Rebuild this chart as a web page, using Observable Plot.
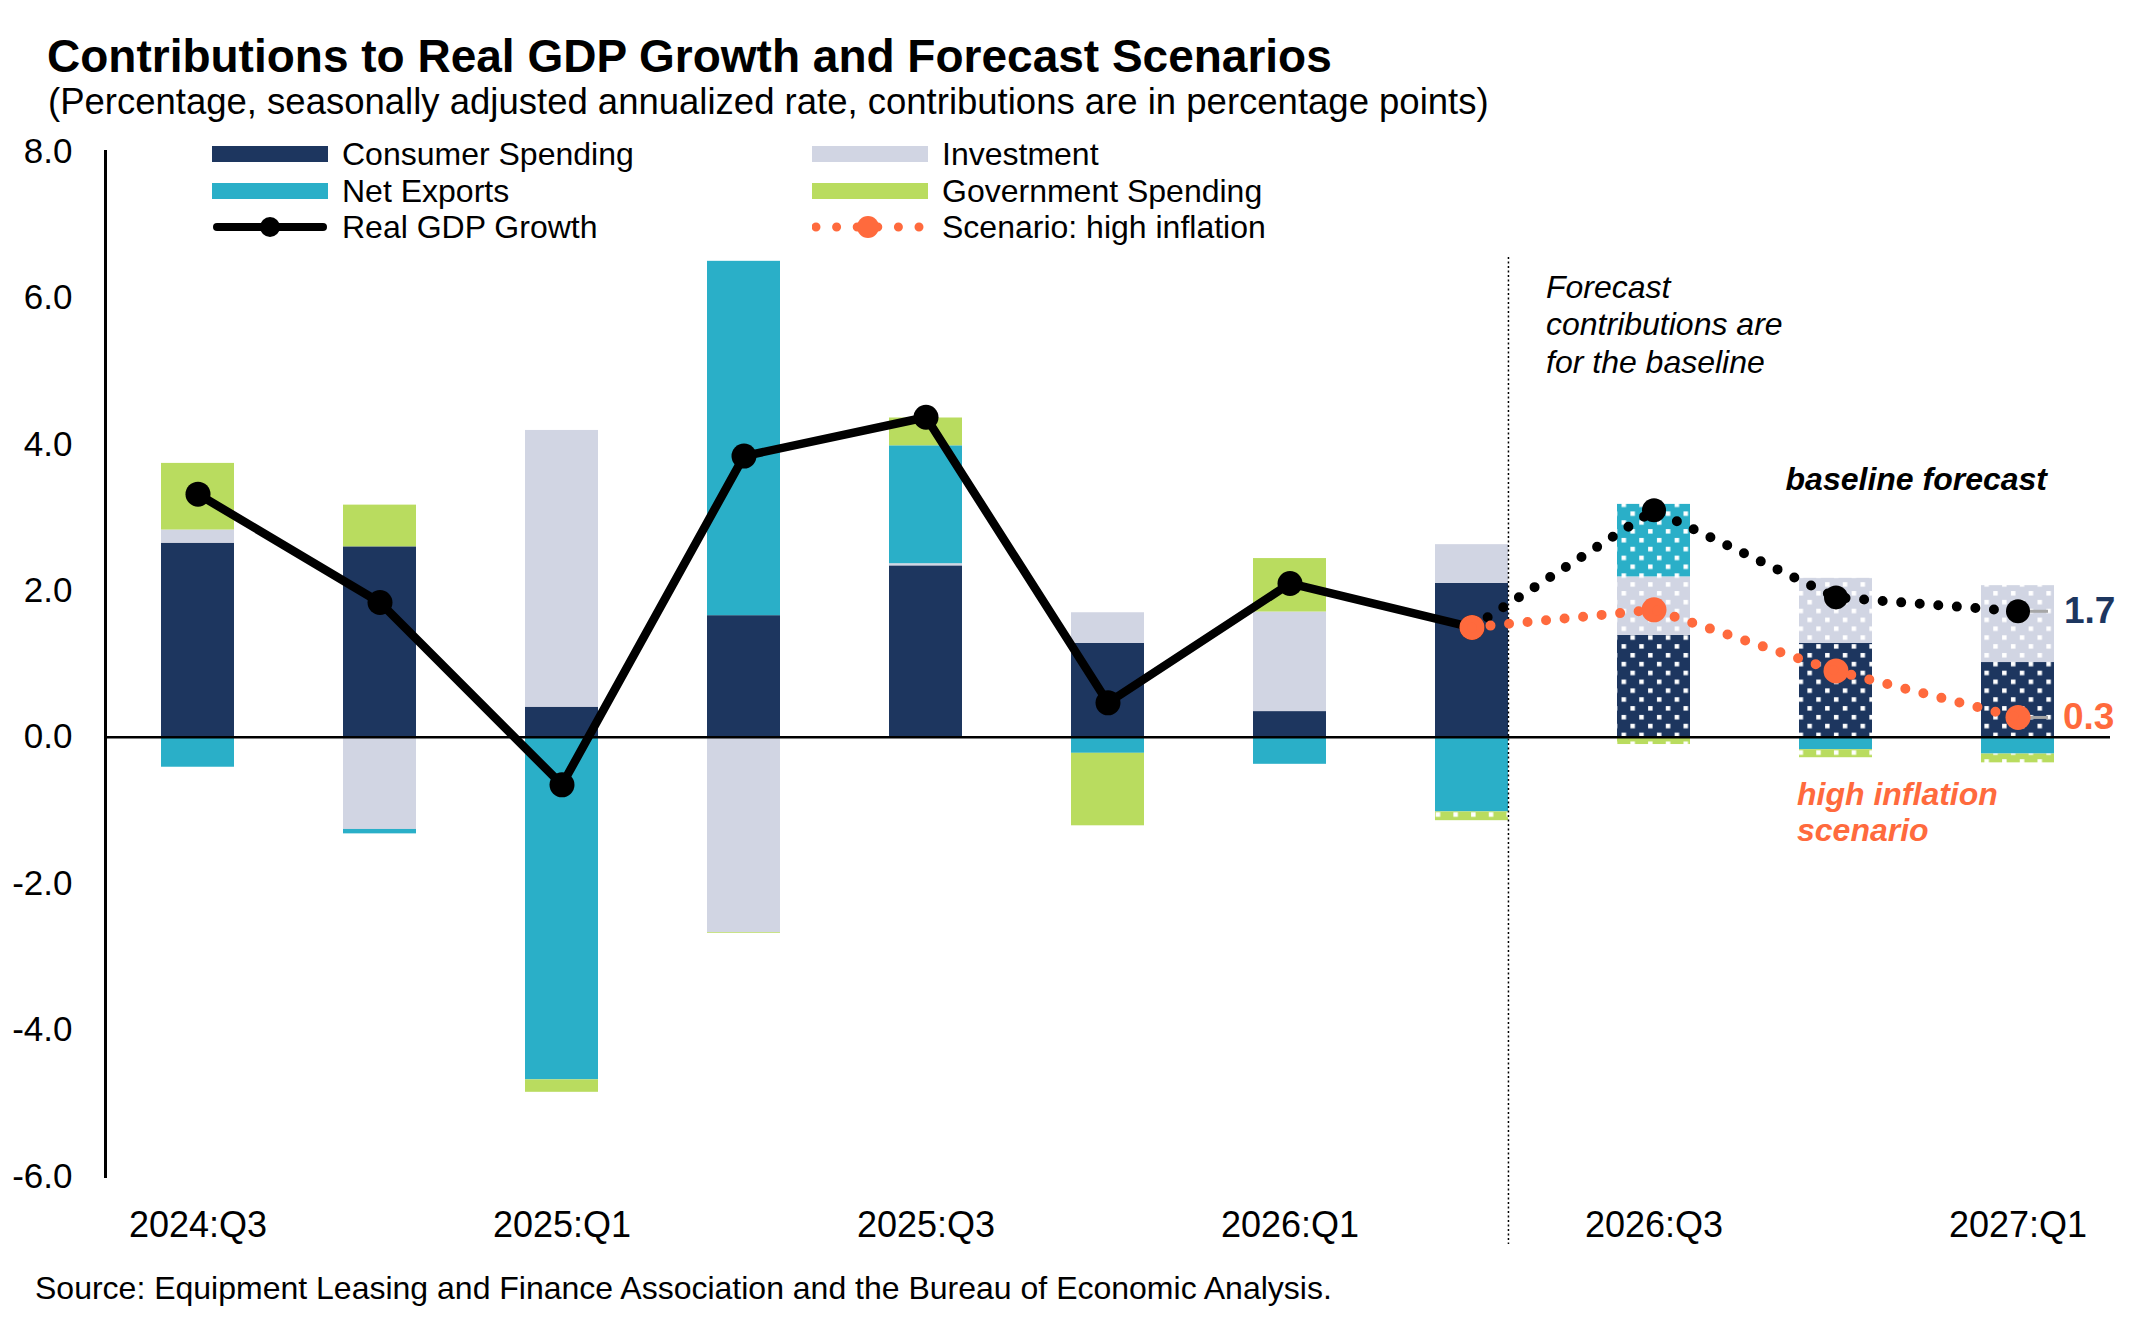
<!DOCTYPE html>
<html>
<head>
<meta charset="utf-8">
<script src="https://cdn.jsdelivr.net/npm/d3@7"></script>
<script src="https://cdn.jsdelivr.net/npm/@observablehq/plot@0.6"></script>
<style>
  html, body { margin: 0; padding: 0; background: #fff; }
  body { font-family: "Liberation Sans", Arial, Helvetica, sans-serif; color: #000; }
  #page { position: relative; width: 2145px; height: 1320px; overflow: hidden; }
  .abs { position: absolute; white-space: nowrap; line-height: 1; }
  #title { left: 47px; top: 33px; font-size: 46px; font-weight: bold; }
  #subtitle { left: 48px; top: 84px; font-size: 36.5px; }
  #source { left: 35px; top: 1272px; font-size: 32px; }
  #chart { position: absolute; left: 0; top: 120px; }
  .leg { position: absolute; height: 40px; display: flex; align-items: center; font-size: 32px; white-space: nowrap; }
  .sw { width: 116px; height: 16px; margin-right: 14px; flex: none; }
  .swsvg { width: 116px; height: 30px; margin-right: 14px; flex: none; }
</style>
</head>
<body>
<div id="page">
  <div id="title" class="abs">Contributions to Real GDP Growth and Forecast Scenarios</div>
  <div id="subtitle" class="abs">(Percentage, seasonally adjusted annualized rate, contributions are in percentage points)</div>
  <div id="chart"></div>
  <div id="legend"></div>
  <div id="source" class="abs">Source: Equipment Leasing and Finance Association and the Bureau of Economic Analysis.</div>
</div>
<script>
// ---------------- data ----------------
const quarters = ["2024:Q3","2024:Q4","2025:Q1","2025:Q2","2025:Q3","2025:Q4","2026:Q1","2026:Q2","2026:Q3","2026:Q4","2027:Q1"];
const xTickLabels = ["2024:Q3","2025:Q1","2025:Q3","2026:Q1","2026:Q3","2027:Q1"];
const yTicks = [-6, -4, -2, 0, 2, 4, 6, 8];

const seriesNames = ["Consumer Spending", "Investment", "Net Exports", "Government Spending"];
const consumer   = [2.65, 2.60, 0.41, 1.66, 2.34, 1.28, 0.35, 2.10, 1.39, 1.28, 1.02];
const investment = [0.18, -1.26, 3.78, -2.67, 0.03, 0.42, 1.36, 0.53, 0.80, 0.89, 1.05];
const netExports = [-0.41, -0.06, -4.68, 4.84, 1.61, -0.22, -0.37, -1.02, 0.99, -0.17, -0.23];
const government = [0.91, 0.57, -0.17, -0.01, 0.38, -0.99, 0.73, -0.12, -0.10, -0.11, -0.12];

const gdpQuarters = ["2024:Q3","2024:Q4","2025:Q1","2025:Q2","2025:Q3","2025:Q4","2026:Q1","2026:Q2"];
const gdpGrowth   = [3.32, 1.84, -0.65, 3.84, 4.37, 0.47, 2.10, 1.50];

const forecastQuarters = ["2026:Q2","2026:Q3","2026:Q4","2027:Q1"];
const baselineForecast = [1.50, 3.10, 1.91, 1.72];
const highInflation    = [1.50, 1.74, 0.905, 0.27];

// contributions that are projected (drawn with the dotted pattern)
const projectedCells = [
  ["2026:Q2","Government Spending"],
  ["2026:Q3","Consumer Spending"],["2026:Q3","Investment"],["2026:Q3","Net Exports"],["2026:Q3","Government Spending"],
  ["2026:Q4","Consumer Spending"],["2026:Q4","Investment"],["2026:Q4","Government Spending"],
  ["2027:Q1","Consumer Spending"],["2027:Q1","Investment"],["2027:Q1","Government Spending"]
];

// ---------------- styles ----------------
const colors = {
  "Consumer Spending": "#1D365F",
  "Investment": "#D1D5E3",
  "Net Exports": "#2AAFC8",
  "Government Spending": "#B9DC5F"
};
const patId = {
  "Consumer Spending": "pat-cons",
  "Investment": "pat-inv",
  "Net Exports": "pat-nx",
  "Government Spending": "pat-gov"
};
const orange = "#FF6A3D";
const font = "Liberation Sans, Arial, Helvetica, sans-serif";

// ---------------- build table ----------------
const seriesValues = [consumer, investment, netExports, government];
const isProjected = (q, s) => projectedCells.some(([pq, ps]) => pq === q && ps === s);
const bars = [];
quarters.forEach((q, i) => {
  seriesNames.forEach((s, k) => {
    bars.push({quarter: q, series: s, value: seriesValues[k][i],
      fill: isProjected(q, s) ? `url(#${patId[s]})` : colors[s]});
  });
});
const gdp = gdpQuarters.map((q, i) => ({quarter: q, value: gdpGrowth[i]}));
const base = forecastQuarters.map((q, i) => ({quarter: q, value: baselineForecast[i]}));
const high = forecastQuarters.map((q, i) => ({quarter: q, value: highInflation[i]}));
const lastBase = base[base.length - 1];
const lastHigh = high[high.length - 1];

// ---------------- layout ----------------
const W = 2145, H = 1140, mL = 105, mR = 35, mT = 31, mB = 84;
const step = (W - mL - mR) / quarters.length;
const bandW = step * 0.4;

const chart = Plot.plot({
  width: W, height: H,
  marginLeft: mL, marginRight: mR, marginTop: mT, marginBottom: mB,
  style: {fontFamily: font, background: "transparent", overflow: "visible", color: "#000"},
  x: {domain: quarters, paddingInner: 0.6, paddingOuter: 0.3, axis: null},
  y: {domain: [-6, 8], axis: null},
  color: {type: "identity"},
  marks: [
    Plot.barY(bars, {x: "quarter", y: "value", z: "series", fill: "fill"}),
    Plot.frame({anchor: "left", stroke: "#000", strokeWidth: 3}),
    Plot.ruleY([0], {stroke: "#000", strokeWidth: 2.5}),
    Plot.axisY(yTicks, {tickSize: 0, tickPadding: 33, tickFormat: d => d.toFixed(1), fontSize: 35, fill: "#000"}),
    Plot.axisX(xTickLabels, {tickSize: 0, tickPadding: 35, fontSize: 36, fill: "#000"}),
    // forecast divider (right edge of the last actual bar)
    Plot.ruleX([quarters[7]], {dx: bandW / 2, stroke: "#000", strokeWidth: 1.5, strokeDasharray: "2 2.5", insetTop: 106, insetBottom: -68}),
    Plot.text([{q: quarters[8], v: 5.65}], {x: "q", y: "v", text: () => "Forecast\ncontributions are\nfor the baseline",
      dx: -108, textAnchor: "start", lineAnchor: "middle", lineHeight: 1.16, fontSize: 32, fontStyle: "italic", fill: "#000"}),
    // actual GDP
    Plot.line(gdp, {x: "quarter", y: "value", stroke: "#000", strokeWidth: 8.5, strokeLinejoin: "round", strokeLinecap: "round"}),
    Plot.dot(gdp, {x: "quarter", y: "value", r: 12.5, fill: "#000", stroke: "none"}),
    // leaders to end labels
    Plot.tickY([lastBase, lastHigh], {x: "quarter", y: "value", stroke: "#A6A6A6", strokeWidth: 3, insetLeft: bandW / 2, insetRight: 6}),
    // baseline forecast
    Plot.dot(base.slice(1), {x: "quarter", y: "value", r: 12, fill: "#000", stroke: "none"}),
    Plot.line(base, {x: "quarter", y: "value", stroke: "#000", strokeWidth: 10, strokeLinecap: "round", strokeDasharray: "0 18.6"}),
    // high inflation scenario
    Plot.dot(high, {x: "quarter", y: "value", r: 12.5, fill: orange, stroke: "none"}),
    Plot.line(high, {x: "quarter", y: "value", stroke: orange, strokeWidth: 10, strokeLinecap: "round", strokeDasharray: "0 18.6"}),
    // labels
    Plot.text([lastBase], {x: "quarter", y: "value", text: d => d.value.toFixed(1), dx: 46, textAnchor: "start",
      fontSize: 37, fontWeight: "bold", fill: "#1D365F"}),
    Plot.text([lastHigh], {x: "quarter", y: "value", text: d => d.value.toFixed(1), dx: 45, textAnchor: "start",
      fontSize: 37, fontWeight: "bold", fill: orange}),
    Plot.text([{q: quarters[10], v: 3.52}], {x: "q", y: "v", text: () => "baseline forecast", dx: 29, textAnchor: "end",
      fontSize: 32, fontWeight: "bold", fontStyle: "italic", fill: "#000"}),
    Plot.text([{q: quarters[9], v: -1.02}], {x: "q", y: "v", text: () => "high inflation\nscenario", dx: -39, textAnchor: "start",
      lineAnchor: "middle", lineHeight: 1.12, fontSize: 32, fontWeight: "bold", fontStyle: "italic", fill: orange})
  ]
});

// dotted patterns for projected contributions
const ns = "http://www.w3.org/2000/svg";
const defs = document.createElementNS(ns, "defs");
const tile = 17.7;
for (const s of seriesNames) {
  const p = document.createElementNS(ns, "pattern");
  p.setAttribute("id", patId[s]);
  p.setAttribute("patternUnits", "userSpaceOnUse");
  p.setAttribute("width", tile);
  p.setAttribute("height", tile);
  const bg = document.createElementNS(ns, "rect");
  bg.setAttribute("width", tile); bg.setAttribute("height", tile); bg.setAttribute("fill", colors[s]);
  p.appendChild(bg);
  for (const [x, y] of [[2, 2], [2 + tile / 2, 2 + tile / 2]]) {
    const r = document.createElementNS(ns, "rect");
    r.setAttribute("x", x); r.setAttribute("y", y);
    r.setAttribute("width", "4.5"); r.setAttribute("height", "4.5"); r.setAttribute("fill", "#fff");
    p.appendChild(r);
  }
  defs.appendChild(p);
}
chart.insertBefore(defs, chart.firstChild);
document.getElementById("chart").appendChild(chart);

// ---------------- legend ----------------
const legend = document.getElementById("legend");
const legendItems = [
  {label: "Consumer Spending", kind: "swatch", color: colors["Consumer Spending"], left: 212, cy: 154},
  {label: "Investment", kind: "swatch", color: colors["Investment"], left: 812, cy: 154},
  {label: "Net Exports", kind: "swatch", color: colors["Net Exports"], left: 212, cy: 191},
  {label: "Government Spending", kind: "swatch", color: colors["Government Spending"], left: 812, cy: 191},
  {label: "Real GDP Growth", kind: "line", left: 212, cy: 227},
  {label: "Scenario: high inflation", kind: "dotted", left: 812, cy: 227}
];
for (const it of legendItems) {
  const d = document.createElement("div");
  d.className = "leg";
  d.style.left = it.left + "px";
  d.style.top = (it.cy - 20) + "px";
  if (it.kind === "swatch") {
    const s = document.createElement("span");
    s.className = "sw";
    s.style.background = it.color;
    d.appendChild(s);
  } else if (it.kind === "line") {
    d.insertAdjacentHTML("beforeend",
      `<svg class="swsvg" viewBox="0 0 116 30"><line x1="5" y1="15" x2="111" y2="15" stroke="#000" stroke-width="8" stroke-linecap="round"/><circle cx="58" cy="15" r="10" fill="#000"/></svg>`);
  } else {
    d.insertAdjacentHTML("beforeend",
      `<svg class="swsvg" viewBox="0 0 116 30"><line x1="4" y1="15" x2="110" y2="15" stroke="${orange}" stroke-width="9" stroke-linecap="round" stroke-dasharray="0 20.6"/><circle cx="56" cy="15" r="11" fill="${orange}"/></svg>`);
  }
  const t = document.createElement("span");
  t.textContent = it.label;
  d.appendChild(t);
  legend.appendChild(d);
}
</script>
</body>
</html>
